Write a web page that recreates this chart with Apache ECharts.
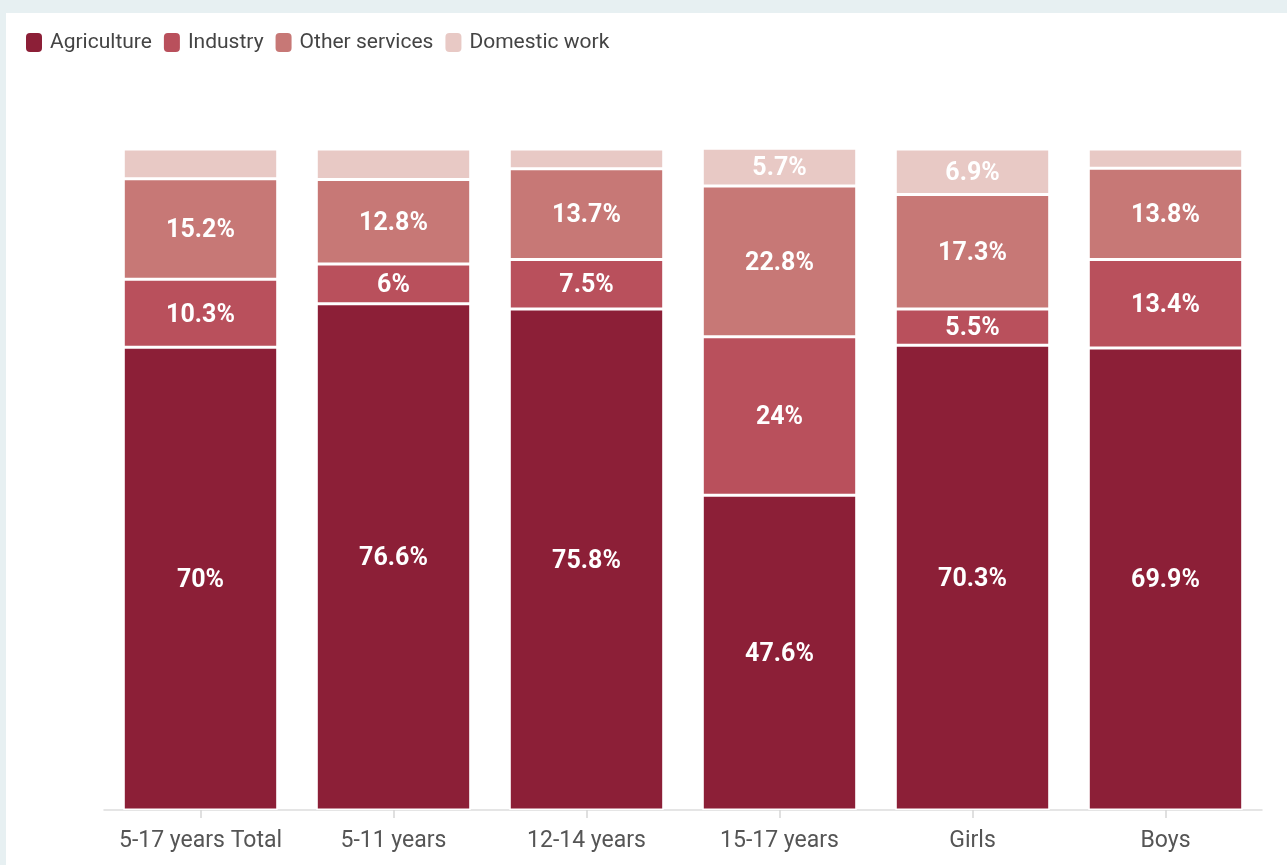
<!DOCTYPE html>
<html>
<head>
<meta charset="utf-8">
<script src="https://cdn.jsdelivr.net/npm/echarts@6/dist/echarts.min.js"></script>
<style>
  html, body { margin: 0; padding: 0; background: #e7f0f2; width: 1287px; height: 865px; overflow: hidden; }
  #panel { position: absolute; left: 6px; top: 13px; width: 1281px; height: 852px; background: #ffffff; }
  #chart { width: 1281px; height: 852px; }
</style>
</head>
<body>
<div id="panel"><div id="chart"></div></div>
<script>
const categories = ['5-17 years Total', '5-11 years', '12-14 years', '15-17 years', 'Girls', 'Boys'];
const seriesNames = ['Agriculture', 'Industry', 'Other services', 'Domestic work'];
const agriculture = [70, 76.6, 75.8, 47.6, 70.3, 69.9];
const industry = [10.3, 6, 7.5, 24, 5.5, 13.4];
const otherServices = [15.2, 12.8, 13.7, 22.8, 17.3, 13.8];
const domesticWork = [4.5, 4.6, 3.0, 5.7, 6.9, 2.9];
const colors = ['#8c1f37', '#b9505c', '#c77876', '#e8c9c5'];

const values = [agriculture, industry, otherServices, domesticWork];
const chart = echarts.init(document.getElementById('chart'), null, { renderer: 'canvas' });

const series = seriesNames.map((name, i) => ({
  name: name,
  type: 'bar',
  stack: 'total',
  barCategoryGap: '20%',
  data: values[i],
  itemStyle: { color: colors[i], borderColor: '#ffffff', borderWidth: 1.5 },
  label: {
    show: true,
    position: 'inside',
    offset: [0, 2],
    color: '#ffffff',
    fontFamily: 'Roboto',
    fontWeight: 'bold',
    fontSize: 25,
    formatter: p => (p.value >= 5 ? p.value + '%' : '')
  },
  emphasis: { disabled: true }
}));

chart.setOption({
  animation: false,
  color: colors,
  legend: {
    left: 20,
    top: 19,
    padding: 0,
    itemWidth: 16,
    itemHeight: 19,
    itemGap: 12,
    icon: 'roundRect',
    symbolKeepAspect: false,
    itemStyle: { borderWidth: 0 },
    textStyle: { fontFamily: 'Roboto', fontSize: 21, color: '#444444', padding: [0, 0, 0, 3] },
    data: seriesNames
  },
  grid: { left: 98, right: 25, top: 136, bottom: 55, containLabel: false },
  xAxis: {
    type: 'category',
    data: categories,
    axisLine: { show: true, lineStyle: { color: '#dddddd', width: 1.5 } },
    axisTick: { show: true, alignWithLabel: true, length: 8, lineStyle: { color: '#d6d6d6', width: 1.5 } },
    axisLabel: { show: true, interval: 0, fontFamily: 'Roboto', fontSize: 23, color: '#555555', margin: 20 }
  },
  yAxis: {
    type: 'value',
    min: 0,
    max: 100,
    show: false,
    splitLine: { show: false }
  },
  series: series
});
</script>
</body>
</html>
